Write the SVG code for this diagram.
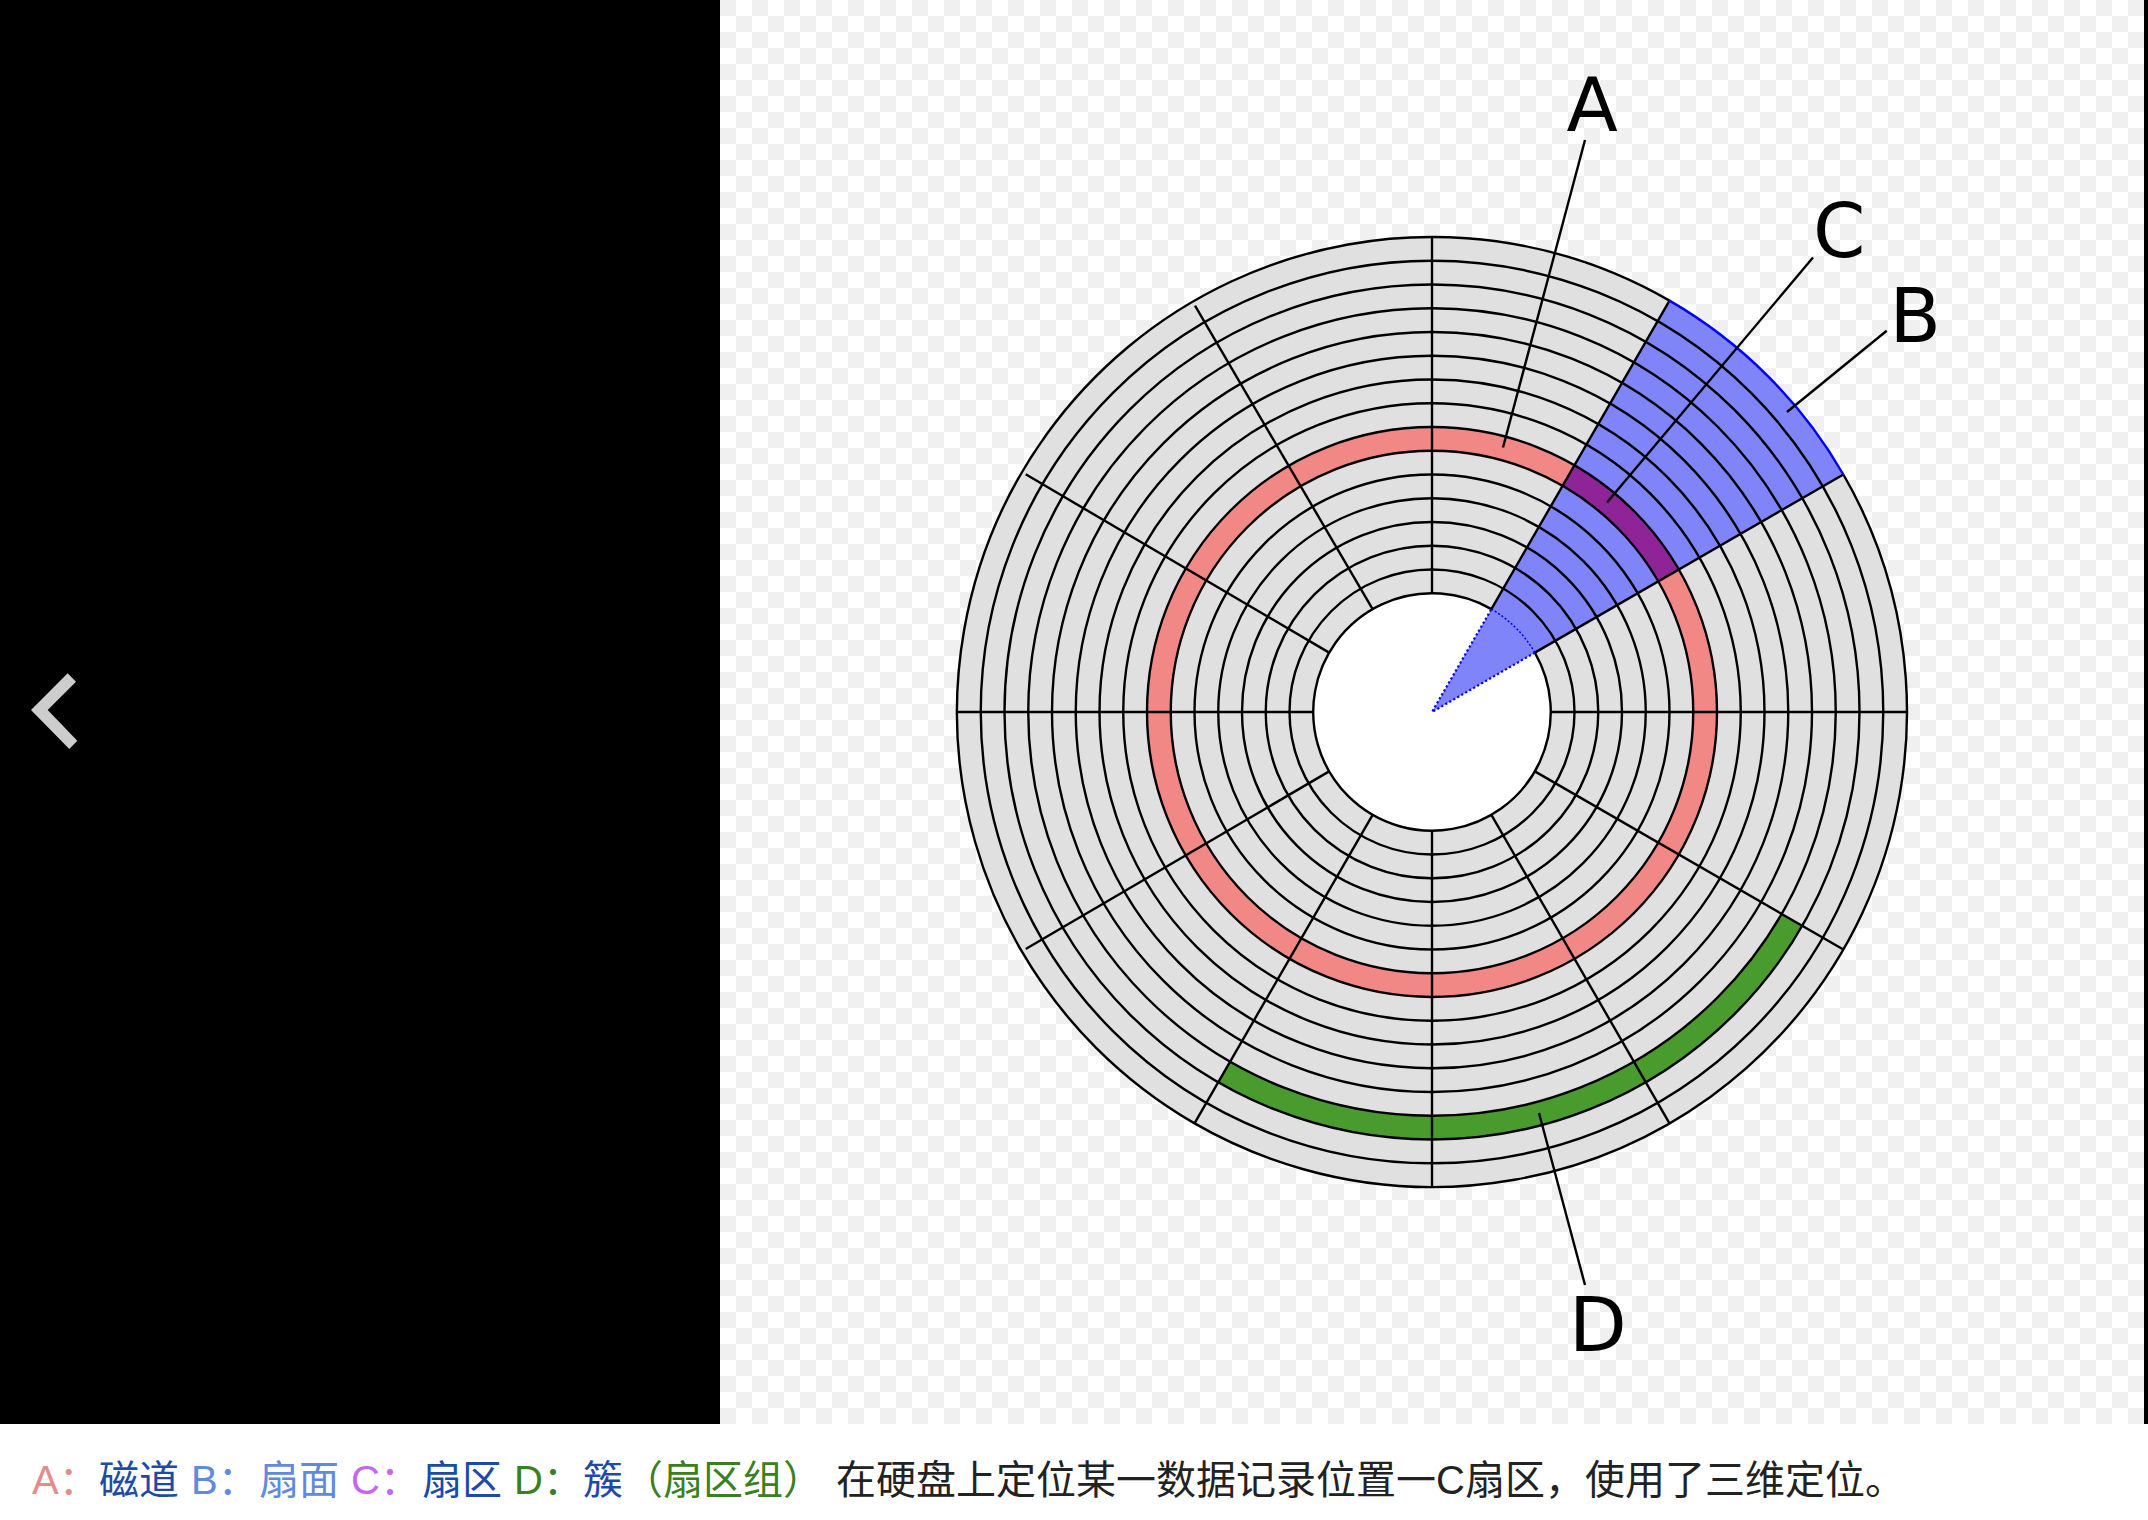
<svg xmlns="http://www.w3.org/2000/svg" width="2148" height="1520" viewBox="0 0 2148 1520">
<style>
.t{fill:none;stroke:#000;stroke-width:2.4}
.s{stroke:#000;stroke-width:2.4}
.l{stroke:#000;stroke-width:2.4;fill:none}
.lab{font-family:"DejaVu Sans",sans-serif;font-size:75px;fill:#000}
.cap{font-family:"Liberation Sans","Noto Sans CJK SC",sans-serif;font-size:40px}
</style>
<defs>
<pattern id="chk" x="720" y="0" width="32" height="32" patternUnits="userSpaceOnUse">
<rect width="32" height="32" fill="#fff"/>
<rect width="16" height="16" fill="#f0f0f0"/>
<rect x="16" y="16" width="16" height="16" fill="#f0f0f0"/>
</pattern>
<line id="spoke" class="s" x1="1550.75" y1="712" x2="1907" y2="712"/>
</defs>
<rect width="2148" height="1520" fill="#fff"/>
<rect id="black-left" x="0" y="0" width="720" height="1424" fill="#000"/>
<rect id="black-right" x="2144" y="0" width="4" height="1424" fill="#000"/>
<rect id="checker" x="720" y="0" width="1424" height="1424" fill="url(#chk)"/>
<polygon id="chevron" points="67.7,673.3 76,681.7 47.7,710 77.3,740.7 69.3,749 31,710" fill="#cdcdcd"/>
<g id="disk">
<circle cx="1432" cy="712" r="475" fill="#e0e0e0"/>
<circle cx="1432" cy="712" r="118.75" fill="#fff"/>
<circle id="track-A" cx="1432" cy="712" r="273.125" fill="none" stroke="#f28885" stroke-width="23.75"/>
<path id="cluster-D" d="M1791.94 919.81A415.625 415.625 0 0 1 1224.19 1071.94" fill="none" stroke="#489b2c" stroke-width="23.75"/>
<path id="sector-B" d="M1432 712L1843.36 474.5A475 475 0 0 0 1669.5 300.64Z" fill="#7f85f9"/>
<path id="sector-C" d="M1668.53 575.44A273.125 273.125 0 0 0 1568.56 475.47" fill="none" stroke="#8f2398" stroke-width="23.75"/>
<g id="tracks">
<path class="t" d="M1534.84 652.63A118.75 118.75 0 1 1 1491.38 609.16"/>
<circle class="t" cx="1432" cy="712" r="142.5"/>
<circle class="t" cx="1432" cy="712" r="166.25"/>
<circle class="t" cx="1432" cy="712" r="190"/>
<circle class="t" cx="1432" cy="712" r="213.75"/>
<circle class="t" cx="1432" cy="712" r="237.5"/>
<circle class="t" cx="1432" cy="712" r="261.25"/>
<circle class="t" cx="1432" cy="712" r="285"/>
<circle class="t" cx="1432" cy="712" r="308.75"/>
<circle class="t" cx="1432" cy="712" r="332.5"/>
<circle class="t" cx="1432" cy="712" r="356.25"/>
<circle class="t" cx="1432" cy="712" r="380"/>
<circle class="t" cx="1432" cy="712" r="403.75"/>
<circle class="t" cx="1432" cy="712" r="427.5"/>
<circle class="t" cx="1432" cy="712" r="451.25"/>
<path class="t" d="M1843.36 474.5A475 475 0 1 1 1669.5 300.64"/>
</g>
<g id="spokes">
<use href="#spoke"/>
<use href="#spoke" transform="rotate(30 1432 712)"/>
<use href="#spoke" transform="rotate(60 1432 712)"/>
<use href="#spoke" transform="rotate(90 1432 712)"/>
<use href="#spoke" transform="rotate(120 1432 712)"/>
<line class="s" x1="1329.16" y1="771.37" x2="1025.7" y2="949"/>
<use href="#spoke" transform="rotate(180 1432 712)"/>
<line class="s" x1="1329.16" y1="652.63" x2="1025.7" y2="474.3"/>
<line class="s" x1="1372.62" y1="609.16" x2="1195" y2="305.7"/>
<use href="#spoke" transform="rotate(270 1432 712)"/>
<use href="#spoke" transform="rotate(300 1432 712)"/>
<use href="#spoke" transform="rotate(330 1432 712)"/>
</g>
<path id="sector-outer-arc" d="M1669.5 300.64A475 475 0 0 1 1843.36 474.5" fill="none" stroke="#0000ff" stroke-width="2.4"/>
<path id="sector-tip" d="M1534.84 652.63L1432 712L1491.38 609.16" fill="none" stroke="#0000ff" stroke-width="2.2" stroke-dasharray="2.2 2.4"/>
<path id="sector-inner-arc" d="M1491.38 609.16A118.75 118.75 0 0 1 1534.84 652.63" fill="none" stroke="#0000ff" stroke-width="1.5" stroke-dasharray="2 2"/>
</g>
<g id="connectors">
<line class="l" x1="1585" y1="140" x2="1503" y2="447.5"/>
<line class="l" x1="1813" y1="257.5" x2="1607" y2="502.5"/>
<line class="l" x1="1886.7" y1="330.7" x2="1787" y2="412"/>
<line class="l" x1="1539" y1="1113" x2="1585" y2="1285"/>
</g>
<g id="labels">
<text class="lab" x="1566.5" y="130.5">A</text>
<text class="lab" x="1813" y="256.5">C</text>
<text class="lab" x="1889.5" y="341.5">B</text>
<text class="lab" x="1569" y="1351">D</text>
</g>
<g id="caption" class="cap">
<text y="1494" x="32" fill="#e58b8a">A：</text>
<text y="1494" x="99" fill="#1c4aa8">磁道</text>
<text y="1494" x="191" fill="#5f8ae0">B：</text>
<text y="1494" x="259" fill="#5f8ae0">扇面</text>
<text y="1494" x="351" fill="#c964f0">C：</text>
<text y="1494" x="422" fill="#1c4aa8">扇区</text>
<text y="1494" x="514" fill="#3a8020">D：</text>
<text y="1494" x="583" fill="#1c4aa8">簇</text>
<text y="1494" x="623" fill="#3a8020">（扇区组）</text>
<text y="1494" x="836" fill="#222">在硬盘上定位某一数据记录位置一C扇区，使用了三维定位。</text>
</g>
</svg>
